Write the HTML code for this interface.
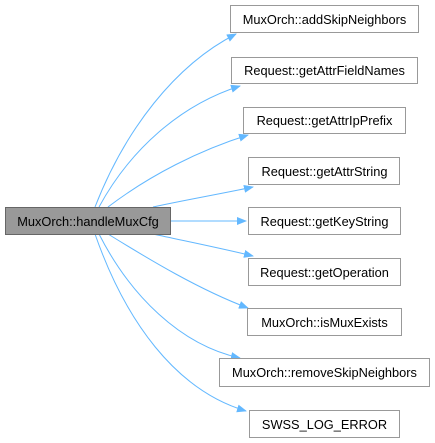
<!DOCTYPE html>
<html><head><style>
body{margin:0;background:#fff;}
svg{display:block;}
text{font-family:"Liberation Sans",sans-serif;font-size:12.8px;fill:#000;}
</style></head><body>
<svg width="435" height="443" viewBox="0 0 435 443">
<defs><marker id="a" markerWidth="10" markerHeight="8" refX="9" refY="4" orient="auto" markerUnits="userSpaceOnUse"><path d="M0,0 L10,4 L0,8 z" fill="#63b8ff"/></marker></defs>
<g fill="none" stroke="#63b8ff" stroke-width="1" marker-end="url(#a)">
<path d="M95,207 C125,130 175,65 236,34"/>
<path d="M99,207 C130,150 180,105 240,86"/>
<path d="M108,207 C150,175 200,150 248,135"/>
<path d="M153,207 C185,200 220,194 253,187"/>
<path d="M171,221 L246,221"/>
<path d="M153,234 C185,241 220,248 253,256"/>
<path d="M108,234 C150,260 200,290 248,308"/>
<path d="M99,234 C130,295 180,345 240,358"/>
<path d="M95,234 C125,320 175,390 246,411"/>
</g>
<g stroke="#999" stroke-width="1">
<rect x="5.5" y="207.5" width="165" height="27" fill="#999" stroke="#666"/>
<rect x="230.5" y="5.5" width="188" height="27" fill="#fff"/>
<rect x="231.5" y="57.5" width="186" height="26" fill="#fff"/>
<rect x="243.5" y="107.5" width="162" height="26" fill="#fff"/>
<rect x="248.5" y="157.5" width="151" height="27" fill="#fff"/>
<rect x="248.5" y="207.5" width="152" height="27" fill="#fff"/>
<rect x="248.5" y="258.5" width="152" height="27" fill="#fff"/>
<rect x="247.5" y="308.5" width="154" height="27" fill="#fff"/>
<rect x="219.5" y="358.5" width="210" height="28" fill="#fff"/>
<rect x="249.5" y="410.5" width="150" height="27" fill="#fff"/>
</g>
<g text-anchor="middle">
<text x="88" y="226">MuxOrch::handleMuxCfg</text>
<text x="324.5" y="24">MuxOrch::addSkipNeighbors</text>
<text x="324.5" y="75">Request::getAttrFieldNames</text>
<text x="324.5" y="125">Request::getAttrIpPrefix</text>
<text x="324.5" y="176">Request::getAttrString</text>
<text x="324.5" y="226">Request::getKeyString</text>
<text x="324.5" y="277">Request::getOperation</text>
<text x="324.5" y="327">MuxOrch::isMuxExists</text>
<text x="324.5" y="377">MuxOrch::removeSkipNeighbors</text>
<text x="324.5" y="429">SWSS_LOG_ERROR</text>
</g>
</svg>
</body></html>
